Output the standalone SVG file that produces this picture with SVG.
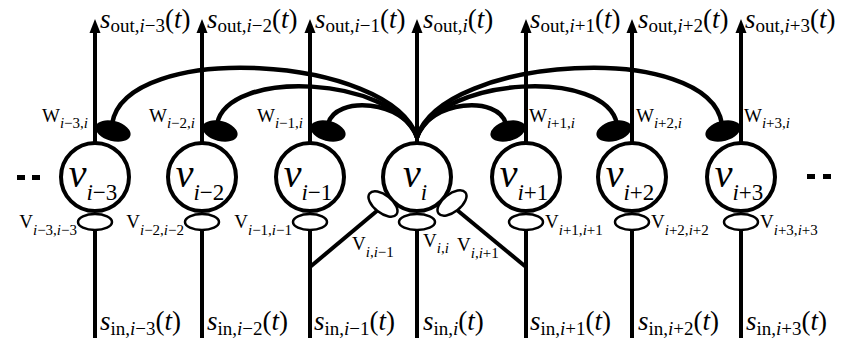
<svg xmlns="http://www.w3.org/2000/svg" width="843" height="343" viewBox="0 0 843 343" font-family="'Liberation Serif','Times New Roman',serif">
<style>
.ln{stroke:#000;stroke-width:4;fill:none}
.arc{stroke:#000;stroke-width:4.5;fill:none;stroke-linecap:round}
.nd{fill:#fff;stroke:#000;stroke-width:4}
.syn{fill:#fff;stroke:#000;stroke-width:2.5}
.w{fill:#000}
text{font-family:"Liberation Serif","Times New Roman",serif;fill:#000}
.it{font-style:italic}
.m{font-size:27px}
.sb{font-size:19px}
.vl{font-size:40px}
.vs{font-size:23px}
.lb{font-size:19px}
.ls{font-size:15px}
</style>
<defs>
<marker id="ah" markerUnits="userSpaceOnUse" markerWidth="16" markerHeight="14" viewBox="0 -7 16 14" refX="0" refY="0" orient="auto">
<path d="M0,-5.5 L14,0 L0,5.5 z" fill="#000"/>
</marker>
</defs>
<rect width="843" height="343" fill="#fff"/>
<g id="connectors">
<path class="ln" d="M95,143 V33" marker-end="url(#ah)"/>
<path class="ln" d="M202,143 V33" marker-end="url(#ah)"/>
<path class="ln" d="M310,143 V33" marker-end="url(#ah)"/>
<path class="ln" d="M417,143 V33" marker-end="url(#ah)"/>
<path class="ln" d="M526,143 V33" marker-end="url(#ah)"/>
<path class="ln" d="M632,143 V33" marker-end="url(#ah)"/>
<path class="ln" d="M741,143 V33" marker-end="url(#ah)"/>
<path class="ln" d="M95,338 V228"/>
<path class="ln" d="M202,338 V228"/>
<path class="ln" d="M310,338 V228"/>
<path class="ln" d="M417,338 V228"/>
<path class="ln" d="M526,338 V228"/>
<path class="ln" d="M632,338 V228"/>
<path class="ln" d="M741,338 V228"/>
<path class="ln" d="M378,210 L310,267"/>
<path class="ln" d="M457,210 L526,267"/>
<path class="arc" d="M417,137 C390,55 125,40 112,124"/>
<path class="arc" d="M417,137 C392,76 228,68 217,124"/>
<path class="arc" d="M417,137 C405,100 335,95 328,124"/>
<path class="arc" d="M417,137 C429,100 499,95 506,124"/>
<path class="arc" d="M417,137 C442,76 606,68 617,124"/>
<path class="arc" d="M417,137 C444,55 709,40 722,124"/>
</g>
<g id="dots-left"><rect x="17" y="175" width="8" height="5"/><rect x="32" y="175" width="8" height="5"/></g>
<g id="dots-right"><rect x="807" y="174" width="8" height="5"/><rect x="823" y="174" width="8" height="5"/></g>
<g id="out-labels">
<text class="m" x="100" y="28"><tspan class="it">s</tspan><tspan class="sb" dy="4">out,</tspan><tspan class="sb it">i</tspan><tspan class="sb">−3</tspan><tspan dy="-4">(</tspan><tspan class="it">t</tspan>)</text>
<text class="m" x="207" y="28"><tspan class="it">s</tspan><tspan class="sb" dy="4">out,</tspan><tspan class="sb it">i</tspan><tspan class="sb">−2</tspan><tspan dy="-4">(</tspan><tspan class="it">t</tspan>)</text>
<text class="m" x="315" y="28"><tspan class="it">s</tspan><tspan class="sb" dy="4">out,</tspan><tspan class="sb it">i</tspan><tspan class="sb">−1</tspan><tspan dy="-4">(</tspan><tspan class="it">t</tspan>)</text>
<text class="m" x="423" y="28"><tspan class="it">s</tspan><tspan class="sb" dy="4">out,</tspan><tspan class="sb it">i</tspan><tspan dy="-4">(</tspan><tspan class="it">t</tspan>)</text>
<text class="m" x="530" y="28"><tspan class="it">s</tspan><tspan class="sb" dy="4">out,</tspan><tspan class="sb it">i</tspan><tspan class="sb">+1</tspan><tspan dy="-4">(</tspan><tspan class="it">t</tspan>)</text>
<text class="m" x="638" y="28"><tspan class="it">s</tspan><tspan class="sb" dy="4">out,</tspan><tspan class="sb it">i</tspan><tspan class="sb">+2</tspan><tspan dy="-4">(</tspan><tspan class="it">t</tspan>)</text>
<text class="m" x="745" y="28"><tspan class="it">s</tspan><tspan class="sb" dy="4">out,</tspan><tspan class="sb it">i</tspan><tspan class="sb">+3</tspan><tspan dy="-4">(</tspan><tspan class="it">t</tspan>)</text>
</g>
<g id="in-labels">
<text class="m" x="100" y="330"><tspan class="it">s</tspan><tspan class="sb" dy="5">in,</tspan><tspan class="sb it">i</tspan><tspan class="sb">−3</tspan><tspan dy="-5">(</tspan><tspan class="it">t</tspan>)</text>
<text class="m" x="207" y="330"><tspan class="it">s</tspan><tspan class="sb" dy="5">in,</tspan><tspan class="sb it">i</tspan><tspan class="sb">−2</tspan><tspan dy="-5">(</tspan><tspan class="it">t</tspan>)</text>
<text class="m" x="314" y="330"><tspan class="it">s</tspan><tspan class="sb" dy="5">in,</tspan><tspan class="sb it">i</tspan><tspan class="sb">−1</tspan><tspan dy="-5">(</tspan><tspan class="it">t</tspan>)</text>
<text class="m" x="423" y="330"><tspan class="it">s</tspan><tspan class="sb" dy="5">in,</tspan><tspan class="sb it">i</tspan><tspan dy="-5">(</tspan><tspan class="it">t</tspan>)</text>
<text class="m" x="530" y="330"><tspan class="it">s</tspan><tspan class="sb" dy="5">in,</tspan><tspan class="sb it">i</tspan><tspan class="sb">+1</tspan><tspan dy="-5">(</tspan><tspan class="it">t</tspan>)</text>
<text class="m" x="638" y="330"><tspan class="it">s</tspan><tspan class="sb" dy="5">in,</tspan><tspan class="sb it">i</tspan><tspan class="sb">+2</tspan><tspan dy="-5">(</tspan><tspan class="it">t</tspan>)</text>
<text class="m" x="746" y="330"><tspan class="it">s</tspan><tspan class="sb" dy="5">in,</tspan><tspan class="sb it">i</tspan><tspan class="sb">+3</tspan><tspan dy="-5">(</tspan><tspan class="it">t</tspan>)</text>
</g>
<g id="node-im3">
<ellipse class="w" cx="113" cy="131" rx="18" ry="10" transform="rotate(15 113 131)"/>
<circle class="nd" cx="95" cy="177" r="34"/>
<ellipse class="syn" cx="95" cy="222" rx="17" ry="8"/>
<text text-anchor="middle" x="93" y="187"><tspan class="vl it">v</tspan><tspan class="vs" dy="13"><tspan class="it">i</tspan>−3</tspan></text>
<text class="lb" x="88" y="122" text-anchor="end">W<tspan class="ls" dy="6"><tspan class="it">i</tspan>−3,<tspan class="it">i</tspan></tspan></text>
<text class="lb" x="77" y="228" text-anchor="end">V<tspan class="ls" dy="7"><tspan class="it">i</tspan>−3,<tspan class="it">i</tspan>−3</tspan></text>
</g>
<g id="node-im2">
<ellipse class="w" cx="220" cy="131" rx="18" ry="10" transform="rotate(15 220 131)"/>
<circle class="nd" cx="202" cy="177" r="34"/>
<ellipse class="syn" cx="202" cy="222" rx="17" ry="8"/>
<text text-anchor="middle" x="200" y="187"><tspan class="vl it">v</tspan><tspan class="vs" dy="13"><tspan class="it">i</tspan>−2</tspan></text>
<text class="lb" x="195" y="122" text-anchor="end">W<tspan class="ls" dy="6"><tspan class="it">i</tspan>−2,<tspan class="it">i</tspan></tspan></text>
<text class="lb" x="184" y="228" text-anchor="end">V<tspan class="ls" dy="7"><tspan class="it">i</tspan>−2,<tspan class="it">i</tspan>−2</tspan></text>
</g>
<g id="node-im1">
<ellipse class="w" cx="328" cy="131" rx="18" ry="10" transform="rotate(15 328 131)"/>
<circle class="nd" cx="310" cy="177" r="34"/>
<ellipse class="syn" cx="310" cy="222" rx="17" ry="8"/>
<text text-anchor="middle" x="308" y="187"><tspan class="vl it">v</tspan><tspan class="vs" dy="13"><tspan class="it">i</tspan>−1</tspan></text>
<text class="lb" x="303" y="122" text-anchor="end">W<tspan class="ls" dy="6"><tspan class="it">i</tspan>−1,<tspan class="it">i</tspan></tspan></text>
<text class="lb" x="292" y="228" text-anchor="end">V<tspan class="ls" dy="7"><tspan class="it">i</tspan>−1,<tspan class="it">i</tspan>−1</tspan></text>
</g>
<g id="node-i">
<circle class="nd" cx="417" cy="177" r="34"/>
<ellipse class="syn" cx="383" cy="204" rx="17" ry="9" transform="rotate(38 383 204)"/>
<ellipse class="syn" cx="452" cy="203" rx="17" ry="9" transform="rotate(-38 452 203)"/>
<ellipse class="syn" cx="417" cy="222" rx="18" ry="8"/>
<text text-anchor="middle" x="415" y="187"><tspan class="vl it">v</tspan><tspan class="vs it" dy="13">i</tspan></text>
<text class="lb" x="352" y="250">V<tspan class="ls" dy="7"><tspan class="it">i</tspan>,<tspan class="it">i</tspan>−1</tspan></text>
<text class="lb" x="423" y="247">V<tspan class="ls" dy="6"><tspan class="it">i</tspan>,<tspan class="it">i</tspan></tspan></text>
<text class="lb" x="457" y="251">V<tspan class="ls" dy="7"><tspan class="it">i</tspan>,<tspan class="it">i</tspan>+1</tspan></text>
</g>
<g id="node-ip1">
<ellipse class="w" cx="508" cy="131" rx="18" ry="10" transform="rotate(-15 508 131)"/>
<circle class="nd" cx="526" cy="177" r="34"/>
<ellipse class="syn" cx="526" cy="222" rx="17" ry="8"/>
<text text-anchor="middle" x="524" y="187"><tspan class="vl it">v</tspan><tspan class="vs" dy="13"><tspan class="it">i</tspan>+1</tspan></text>
<text class="lb" x="529" y="122">W<tspan class="ls" dy="6"><tspan class="it">i</tspan>+1,<tspan class="it">i</tspan></tspan></text>
<text class="lb" x="545" y="228">V<tspan class="ls" dy="7"><tspan class="it">i</tspan>+1,<tspan class="it">i</tspan>+1</tspan></text>
</g>
<g id="node-ip2">
<ellipse class="w" cx="614" cy="131" rx="18" ry="10" transform="rotate(-15 614 131)"/>
<circle class="nd" cx="632" cy="177" r="34"/>
<ellipse class="syn" cx="632" cy="222" rx="17" ry="8"/>
<text text-anchor="middle" x="630" y="187"><tspan class="vl it">v</tspan><tspan class="vs" dy="13"><tspan class="it">i</tspan>+2</tspan></text>
<text class="lb" x="636" y="122">W<tspan class="ls" dy="6"><tspan class="it">i</tspan>+2,<tspan class="it">i</tspan></tspan></text>
<text class="lb" x="651" y="228">V<tspan class="ls" dy="7"><tspan class="it">i</tspan>+2,<tspan class="it">i</tspan>+2</tspan></text>
</g>
<g id="node-ip3">
<ellipse class="w" cx="723" cy="131" rx="18" ry="10" transform="rotate(-15 723 131)"/>
<circle class="nd" cx="741" cy="177" r="34"/>
<ellipse class="syn" cx="741" cy="222" rx="17" ry="8"/>
<text text-anchor="middle" x="739" y="187"><tspan class="vl it">v</tspan><tspan class="vs" dy="13"><tspan class="it">i</tspan>+3</tspan></text>
<text class="lb" x="744" y="122">W<tspan class="ls" dy="6"><tspan class="it">i</tspan>+3,<tspan class="it">i</tspan></tspan></text>
<text class="lb" x="760" y="228">V<tspan class="ls" dy="7"><tspan class="it">i</tspan>+3,<tspan class="it">i</tspan>+3</tspan></text>
</g>
</svg>
